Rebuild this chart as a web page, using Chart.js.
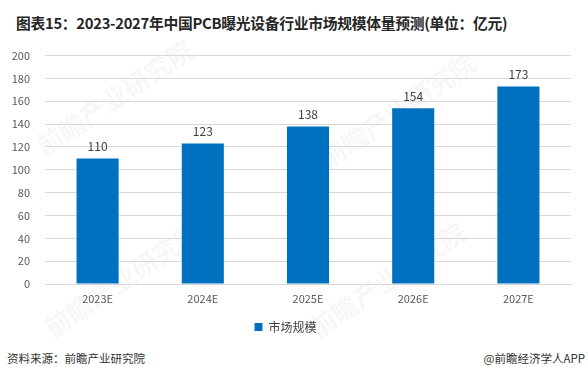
<!DOCTYPE html>
<html><head><meta charset="utf-8">
<script src="https://cdn.jsdelivr.net/npm/chart.js@4/dist/chart.umd.min.js"></script>
<style>
html,body{margin:0;padding:0;background:#fff;}
#wrap{position:relative;width:588px;height:379px;overflow:hidden;font-family:"Noto Sans CJK SC","Noto Sans",sans-serif;}
#title{position:absolute;left:16px;top:12px;font-size:14.8px;font-weight:bold;color:#262626;white-space:nowrap;letter-spacing:-0.3px;}
#chartBox{position:absolute;left:0;top:34px;width:588px;height:311px;}
#src{position:absolute;left:7px;top:350px;font-size:11.5px;color:#333;}
#app{position:absolute;right:3px;top:350px;font-size:11.5px;color:#333;}
.wm{position:absolute;font-size:26px;font-weight:bold;color:rgba(0,0,0,0.05);white-space:nowrap;transform:rotate(-34deg);transform-origin:left bottom;line-height:30px;height:30px;}
</style></head>
<body><div id="wrap">
<div class="wm" style="left:47px;top:130px;">前瞻产业研究院</div>
<div class="wm" style="left:330px;top:143px;">前瞻产业研究院</div>
<div class="wm" style="left:55px;top:312px;">前瞻产业研究院</div>
<div class="wm" style="left:320px;top:312px;">前瞻产业研究院</div>
<div id="title">图表15：2023-2027年中国PCB曝光设备行业市场规模体量预测(单位：亿元)</div>
<div id="chartBox"><canvas id="c"></canvas></div>
<div id="src">资料来源：前瞻产业研究院</div>
<div id="app">@前瞻经济学人APP</div>
</div>
<script>
const categories = ["2023E","2024E","2025E","2026E","2027E"];
const marketSize = [110,123,138,154,173];
const seriesName = "市场规模";
const yTicks = [0,20,40,60,80,100,120,140,160,180,200];

const labelPlugin = {
  id:'barLabels',
  afterDatasetsDraw(chart){
    const ctx = chart.ctx;
    const meta = chart.getDatasetMeta(0);
    ctx.save();
    ctx.font = '12px "Noto Sans CJK SC", sans-serif';
    ctx.fillStyle = '#404040';
    ctx.textAlign = 'center';
    ctx.textBaseline = 'bottom';
    meta.data.forEach((bar,i)=>{
      ctx.fillText(String(chart.data.datasets[0].data[i]), bar.x, bar.y - 6);
    });
    ctx.restore();
  }
};

new Chart(document.getElementById('c'), {
  type:'bar',
  data:{labels:categories,datasets:[{label:seriesName,data:marketSize,backgroundColor:'#0070C0',borderWidth:0,barPercentage:0.8,categoryPercentage:0.5}]},
  options:{
    responsive:true,maintainAspectRatio:false,animation:false,
    layout:{padding:{left:0,right:17,top:4,bottom:2}},
    plugins:{
      legend:{position:'bottom',labels:{boxWidth:8,boxHeight:8,color:'#404040',font:{size:12,family:'"Noto Sans CJK SC", sans-serif'},padding:7}},
      tooltip:{enabled:false}
    },
    scales:{
      x:{grid:{display:false,drawTicks:false},border:{display:true,color:'#d9d9d9'},
         afterFit(s){s.height=30;},
         ticks:{color:'#595959',font:{size:11,family:'"Noto Sans CJK SC", sans-serif'},padding:8}},
      y:{min:0,max:200,afterBuildTicks(s){s.ticks=yTicks.map(v=>({value:v}));},
         afterFit(s){s.width=45;},
         grid:{color:'#d9d9d9',drawTicks:false},border:{display:false},
         ticks:{color:'#595959',font:{size:11,family:'"Noto Sans CJK SC", sans-serif'},padding:15}}
    }
  },
  plugins:[labelPlugin]
});
</script>
</body></html>
